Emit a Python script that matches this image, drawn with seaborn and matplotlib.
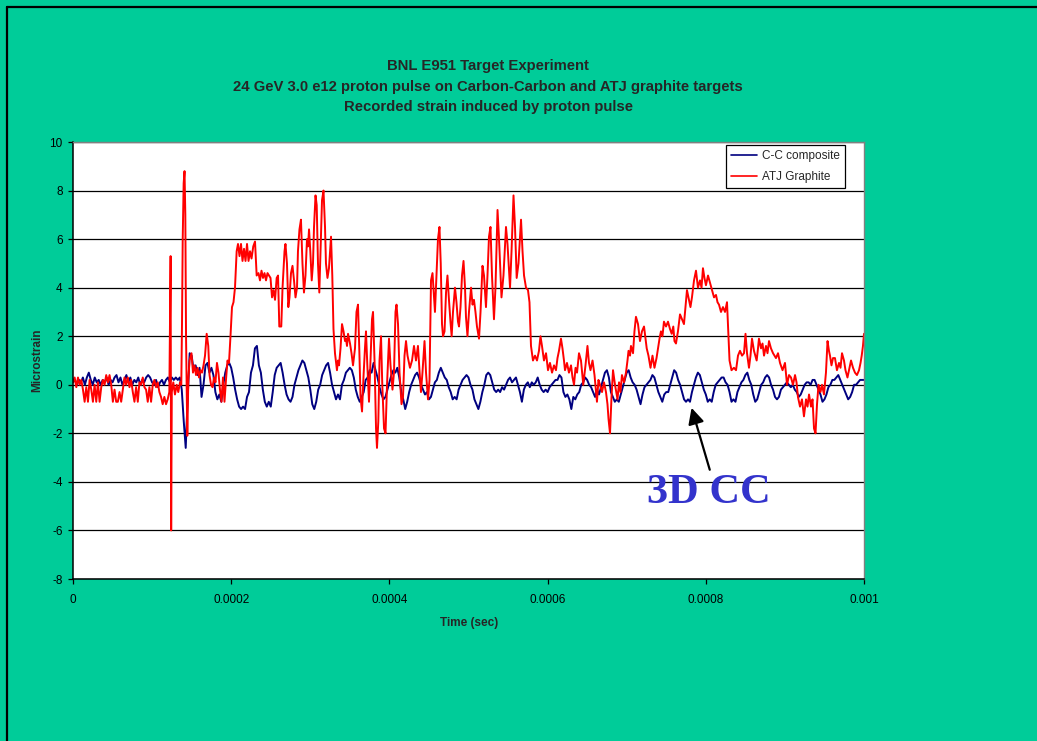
import numpy as np
import pandas as pd
import matplotlib
matplotlib.use("Agg")
import matplotlib.pyplot as plt
from matplotlib.lines import Line2D
import seaborn as sns

# ---------------------------------------------------------------- data
TITLE_LINES = [
    "BNL E951 Target Experiment",
    "24 GeV 3.0 e12 proton pulse on Carbon-Carbon and ATJ graphite targets",
    "Recorded strain induced by proton pulse",
]
SERIES_NAMES = ["C-C composite", "ATJ Graphite"]
X_TICKS = [0, 0.0002, 0.0004, 0.0006, 0.0008, 0.001]
X_TICK_LABELS = ["0", "0.0002", "0.0004", "0.0006", "0.0008", "0.001"]
Y_TICKS = [-8, -6, -4, -2, 0, 2, 4, 6, 8, 10]

# C-C composite: recorder samples every 2.5 microseconds
CC_SAMPLE_US = 2.5
CC_STRAIN = [
    0.1, 0.2, 0.0, 0.2, 0.1, 0.3, 0.0, 0.3, 0.5, 0.2,
    0.0, 0.3, 0.1, 0.2, 0.0, 0.2, 0.1, 0.3, 0.0, 0.2,
    0.1, 0.3, 0.4, 0.1, 0.3, 0.0, 0.2, 0.4, 0.1, 0.3,
    0.0, 0.2, 0.1, 0.3, 0.0, 0.2, 0.1, 0.3, 0.4, 0.3,
    0.1, 0.0, 0.2, -0.1, 0.1, 0.2, 0.0, 0.2, 0.3, 0.1,
    0.3, 0.2, 0.3, 0.2, 0.3, -0.2, -1.5, -2.6, -0.5, 1.3,
    1.2, 0.6, 0.8, 0.4, 0.7, -0.5, 0.0, 0.8, 0.9, 0.5,
    0.7, 0.4, -0.3, -0.6, -0.4, -0.7, 0.0, 0.5, 0.8, 0.9,
    0.7, 0.3, -0.2, -0.6, -0.9, -1.0, -0.9, -1.0, -0.5, -0.3,
    0.5, 0.8, 1.5, 1.6, 0.8, 0.5, -0.2, -0.7, -0.9, -0.7,
    -0.9, -0.3, 0.4, 0.7, 0.8, 0.9, 0.5, 0.0, -0.4, -0.6,
    -0.7, -0.5, 0.0, 0.3, 0.6, 0.8, 1.0, 0.9, 0.6, 0.3,
    -0.2, -0.8, -1.0, -0.7, -0.2, 0.0, 0.4, 0.6, 0.8, 0.9,
    0.5, 0.0, -0.3, -0.6, -0.4, -0.6, 0.0, 0.2, 0.5, 0.6,
    0.7, 0.6, 0.3, -0.2, -0.5, -0.7, -0.5, -0.3, 0.2, 0.3,
    0.6, 0.5, 0.9, 0.6, 0.3, -0.1, -0.4, -0.6, -0.5, -0.2,
    0.1, 0.4, 0.6, 0.5, 0.7, 0.3, -0.3, -0.6, -1.0, -0.7,
    -0.3, 0.0, 0.2, 0.4, 0.5, 0.3, 0.0, -0.2, -0.4, -0.3,
    -0.6, -0.5, -0.2, 0.1, 0.2, 0.5, 0.7, 0.5, 0.3, 0.2,
    -0.1, -0.3, -0.6, -0.5, -0.6, -0.2, 0.0, 0.2, 0.3, 0.4,
    0.3, 0.0, -0.2, -0.6, -0.8, -1.0, -0.7, -0.3, 0.0, 0.4,
    0.5, 0.4, 0.1, -0.2, -0.3, -0.2, -0.3, -0.1, -0.2, 0.0,
    0.2, 0.3, 0.1, 0.2, 0.3, 0.0, -0.3, -0.7, -0.2, 0.0,
    0.1, -0.1, 0.1, 0.0, 0.1, 0.3, 0.0, -0.2, -0.3, -0.2,
    -0.3, -0.1, 0.0, 0.1, 0.2, 0.2, 0.4, 0.3, -0.3, -0.5,
    -0.4, -0.6, -1.0, -0.5, -0.6, -0.4, -0.3, 0.0, 0.1, 0.3,
    0.2, 0.0, -0.1, -0.3, -0.5, -0.2, -0.4, -0.1, 0.2, 0.5,
    0.6, 0.3, -0.3, -0.5, -0.7, -0.6, -0.7, -0.4, -0.1, 0.2,
    0.5, 0.6, 0.3, 0.1, 0.0, -0.2, -0.5, -0.8, -0.4, -0.1,
    0.0, 0.1, 0.2, 0.4, 0.3, 0.0, -0.3, -0.5, -0.7, -0.4,
    -0.3, -0.3, 0.0, 0.3, 0.6, 0.5, 0.2, 0.0, -0.3, -0.6,
    -0.7, -0.6, -0.7, -0.3, 0.0, 0.3, 0.5, 0.4, 0.1, -0.2,
    -0.4, -0.7, -0.6, -0.7, -0.3, 0.0, 0.1, 0.2, 0.3, 0.3,
    0.1, 0.0, -0.3, -0.7, -0.6, -0.7, -0.3, -0.1, 0.1, 0.2,
    0.4, 0.5, 0.2, 0.0, -0.4, -0.7, -0.6, -0.3, 0.0, 0.1,
    0.3, 0.4, 0.3, 0.0, -0.2, -0.5, -0.6, -0.5, -0.2, -0.1,
    0.0, 0.1, 0.0, -0.1, 0.0, -0.2, -0.3, -0.5, -0.4, -0.2,
    0.0, 0.1, 0.1, 0.0, 0.2, 0.2, 0.0, -0.2, -0.4, -0.7,
    -0.6, -0.4, -0.1, 0.0, 0.2, 0.2, 0.3, 0.4, 0.2, 0.0,
    -0.2, -0.4, -0.6, -0.5, -0.3, 0.0, 0.0, 0.1, 0.2, 0.2,
    0.2,
]

# ATJ graphite: time (microseconds) and strain
ATJ_TIME_US = [
    0.0, 2.1, 4.2, 6.3, 8.4, 10.5, 12.6, 14.7, 16.8, 18.9,
    21.0, 23.1, 25.2, 27.3, 29.4, 31.5, 33.6, 35.7, 37.8, 39.9,
    42.0, 44.1, 46.2, 48.3, 50.4, 52.5, 54.6, 56.7, 58.8, 60.9,
    63.0, 65.1, 67.2, 69.3, 71.4, 73.5, 75.6, 77.7, 79.8, 81.9,
    84.0, 86.1, 88.2, 90.3, 92.4, 94.5, 96.6, 98.7, 100.8, 102.9,
    105.0, 107.1, 109.2, 111.3, 113.4, 115.5, 117.6, 119.7, 121.8,
    123.4, 124.1, 124.9, 126.8, 128.9, 131.1, 133.1, 135.3, 136.9, 137.8,
    138.7, 139.9, 141.0, 142.0, 142.9, 144.5, 145.8, 147.3, 149.8, 151.7,
    153.6, 155.5, 157.4, 159.3, 161.2, 163.1, 165.0, 166.9, 169.0, 171.0,
    172.6, 174.5, 176.4, 178.3, 180.1, 182.0, 183.9, 185.8, 187.7, 189.6,
    191.5, 193.4, 195.3, 197.2, 199.1, 201.0, 202.9, 204.8, 206.9, 208.6,
    210.5, 212.4, 214.3, 216.2, 218.1, 220.0, 221.9, 223.8, 225.7, 227.9,
    230.1, 232.2, 234.5, 236.4, 238.3, 240.2, 242.1, 244.0, 245.9, 247.8,
    249.7, 251.6, 253.5, 255.4, 257.5, 259.2, 260.8, 263.3, 264.9, 267.4,
    268.6, 270.5, 272.2, 273.7, 275.6, 277.5, 279.4, 281.3, 283.2, 284.4,
    286.3, 288.2, 290.1, 292.0, 293.9, 295.8, 297.1, 298.4, 300.0, 301.8,
    303.4, 304.7, 306.6, 308.1, 309.7, 311.4, 312.9, 314.8, 316.7, 318.6,
    319.8, 321.7, 323.6, 326.2, 327.8, 329.3, 331.2, 333.7, 335.0, 336.3,
    338.2, 340.1, 342.0, 343.9, 345.1, 346.4, 347.7, 350.2, 352.1, 354.0,
    356.5, 358.4, 360.3, 361.9, 363.5, 365.4, 367.2, 369.1, 370.4, 372.1,
    374.2, 376.1, 378.0, 379.3, 381.2, 383.1, 384.3, 386.0, 387.5, 389.4,
    391.0, 393.2, 395.1, 397.0, 399.5, 401.4, 403.9, 405.8, 407.7, 409.0,
    410.9, 412.8, 415.3, 417.2, 419.1, 421.0, 422.9, 426.0, 428.6, 431.1,
    433.6, 436.1, 438.0, 439.9, 441.8, 444.4, 446.3, 448.8, 450.7, 452.6,
    454.5, 456.4, 457.6, 459.5, 461.4, 463.3, 464.9, 466.5, 467.8, 469.7,
    471.6, 473.4, 475.3, 477.2, 478.7, 480.4, 482.9, 484.8, 486.7, 488.0,
    489.9, 491.8, 493.7, 495.6, 496.8, 498.7, 500.6, 503.2, 505.1, 506.9,
    508.8, 510.7, 513.3, 515.2, 517.7, 519.6, 520.9, 522.1, 524.0, 525.9,
    527.8, 529.7, 532.2, 534.1, 536.7, 538.6, 541.7, 544.2, 547.4, 549.3,
    552.5, 554.4, 556.9, 558.8, 560.9, 563.2, 566.4, 568.3, 570.2, 572.7,
    575.2, 577.1, 579.0, 581.5, 584.1, 586.6, 589.1, 591.0, 592.9, 595.4,
    598.0, 600.5, 603.0, 605.6, 608.1, 610.6, 612.5, 614.4, 616.9, 618.8,
    620.7, 622.0, 624.5, 627.0, 629.6, 631.5, 633.4, 635.3, 637.2, 639.7,
    642.2, 645.1, 647.9, 650.4, 652.3, 654.2, 656.8, 659.3, 662.4, 664.3,
    666.2, 668.8, 671.3, 673.8, 675.7, 677.0, 678.9, 680.8, 682.7, 685.2,
    688.4, 690.3, 692.1, 694.0, 696.6, 699.1, 701.0, 702.3, 704.2, 705.4,
    708.0, 709.8, 711.7, 714.3, 716.8, 719.3, 721.9, 723.8, 725.3, 727.5,
    730.1, 732.6, 735.1, 737.7, 739.6, 741.5, 743.3, 745.2, 747.1, 749.7,
    752.2, 754.7, 756.9, 758.9, 760.4, 762.3, 764.8, 767.4, 769.9, 772.4,
    774.3, 776.2, 778.1, 780.6, 782.5, 785.1, 787.6, 790.1, 792.7, 794.6,
    796.4, 798.3, 800.2, 802.8, 805.3, 807.8, 810.4, 812.9, 814.8, 816.7,
    819.2, 821.7, 824.3, 826.8, 828.7, 830.0, 832.5, 835.6, 838.2, 840.7,
    843.2, 845.8, 848.3, 850.2, 852.1, 854.6, 856.5, 858.4, 860.9, 864.3,
    866.0, 867.2, 869.8, 871.7, 873.6, 876.1, 878.0, 879.9, 882.4, 885.0,
    888.7, 891.3, 893.8, 897.0, 900.1, 902.7, 905.2, 907.7, 910.2, 912.8,
    914.7, 916.5, 919.1, 921.6, 924.1, 926.7, 928.6, 930.5, 933.0, 934.9,
    936.8, 938.7, 940.6, 942.5, 945.0, 946.9, 949.4, 951.9, 953.9, 955.7,
    957.0, 958.9, 960.8, 963.3, 965.8, 968.4, 970.3, 972.2, 974.7, 976.6,
    979.1, 981.0, 983.6, 986.1, 988.6, 991.1, 993.7, 995.6, 997.1, 998.7,
    1000.0,
]
ATJ_STRAIN = [
    0.1, 0.3, -0.1, 0.3, 0.0, 0.2, -0.2, -0.7, -0.1, -0.7,
    0.2, -0.2, -0.7, 0.0, -0.7, 0.1, -0.7, -0.1, 0.2, 0.0,
    0.4, 0.1, 0.4, 0.0, -0.7, -0.2, -0.7, -0.7, -0.3, -0.7,
    -0.2, 0.3, 0.0, 0.3, -0.1, 0.2, -0.3, -0.7, -0.1, -0.7,
    0.1, 0.0, 0.3, -0.1, -0.2, -0.7, -0.1, -0.7, 0.0, 0.2,
    -0.1, 0.1, -0.3, -0.5, -0.8, -0.5, -0.8, -0.6, -0.3,
    5.3, -6.0, -0.3, 0.1, -0.4, 0.0, -0.3, 0.1, 0.0, 2.5,
    6.0, 8.3, 8.8, 7.0, 2.0, -2.1, 0.2, 1.0, 1.3, 0.5,
    0.8, 0.4, 0.7, 0.3, 0.6, 0.5, 0.8, 1.2, 2.1, 1.6,
    0.4, 0.0, -0.1, 0.3, 0.1, 0.9, 0.5, -0.2, -0.7, 0.3,
    -0.7, 0.2, 1.0, 0.9, 2.0, 3.2, 3.4, 4.0, 5.5, 5.8,
    5.3, 5.8, 5.1, 5.6, 5.1, 5.8, 5.1, 5.5, 5.2, 5.7,
    5.9, 4.5, 4.6, 4.3, 4.7, 4.4, 4.6, 4.3, 4.6, 4.5,
    4.4, 3.6, 3.9, 3.5, 4.4, 4.5, 2.4, 2.4, 4.0, 5.5,
    5.8, 5.0, 3.2, 3.6, 4.6, 4.9, 4.3, 3.6, 4.0, 5.5,
    6.4, 6.8, 5.0, 3.8, 4.5, 6.0, 5.7, 6.4, 5.5, 4.3,
    5.0, 6.5, 7.8, 7.4, 5.0, 3.8, 5.5, 7.6, 8.0, 6.5,
    5.0, 4.4, 4.8, 6.1, 4.5, 2.3, 1.3, 0.6, 1.0, 0.8,
    1.5, 2.5, 2.2, 1.8, 1.9, 1.6, 2.1, 1.7, 1.3, 0.8,
    1.5, 3.0, 3.3, 1.5, -0.5, -1.1, 0.3, 1.5, 2.2, 0.8,
    -0.7, 1.0, 2.7, 3.0, 1.0, -1.8, -2.6, -1.5, 1.0, 2.0,
    0.0, -1.8, -2.0, 0.0, 1.9, 0.8, -0.2, 0.5, 3.0, 3.3,
    2.5, 0.5, -0.8, -0.5, 1.2, 1.8, 1.2, 0.7, 1.0, 1.6,
    1.0, 1.6, 0.6, -0.3, 0.5, 1.8, 0.5, -0.6, 0.2, 4.3,
    4.6, 3.6, 3.0, 4.5, 6.0, 6.5, 5.0, 2.5, 2.0, 2.2,
    3.8, 4.5, 3.5, 2.6, 2.0, 3.0, 4.0, 3.4, 2.6, 2.4,
    3.2, 4.5, 5.1, 4.0, 2.8, 2.0, 3.0, 4.0, 3.3, 3.5,
    3.0, 2.4, 1.9, 3.0, 4.9, 4.5, 3.8, 3.2, 4.5, 6.1,
    6.5, 4.5, 2.7, 4.0, 7.2, 6.0, 3.6, 4.5, 6.5, 5.8,
    4.0, 5.5, 7.8, 6.5, 4.4, 5.0, 6.8, 5.5, 4.5, 4.0,
    3.9, 3.4, 1.6, 1.0, 1.2, 1.0, 1.4, 2.0, 1.6, 1.0,
    1.3, 0.6, 0.9, 0.5, 0.8, 0.6, 1.1, 1.4, 1.9, 1.5,
    1.0, 0.6, 0.9, 0.5, 0.8, 0.3, 0.0, 0.7, 0.5, 1.3,
    1.0, 0.0, 0.8, 1.6, 0.9, 0.6, 1.0, 0.4, -0.7, 0.2,
    0.0, -0.3, 0.1, -0.3, -0.8, -1.4, -2.0, -0.5, 0.6, 0.0,
    -0.6, 0.1, -0.3, 0.4, 0.1, 0.5, 1.0, 1.4, 1.2, 1.6,
    1.3, 2.2, 2.8, 2.5, 1.8, 2.2, 2.4, 1.9, 1.5, 1.2,
    0.7, 1.2, 0.7, 1.1, 1.5, 1.9, 2.2, 2.0, 2.6, 2.4,
    2.6, 2.3, 2.1, 2.4, 1.8, 1.7, 2.2, 2.9, 2.7, 2.5,
    3.2, 3.9, 3.6, 3.2, 3.6, 4.3, 4.7, 4.0, 4.3, 4.0,
    4.8, 4.4, 4.1, 4.5, 4.2, 3.9, 3.6, 3.7, 3.4, 3.3,
    3.0, 3.2, 3.0, 3.4, 2.0, 1.0, 0.6, 0.7, 0.6, 1.2,
    1.4, 1.2, 1.3, 2.1, 1.3, 0.7, 1.2, 1.9, 1.4, 1.0,
    1.5, 1.9, 1.5, 1.7, 1.2, 1.6, 1.3, 1.8, 1.5, 1.3,
    1.1, 1.3, 0.9, 0.6, 0.9, 0.0, 0.4, 0.3, 0.0, 0.4,
    0.1, -0.5, -0.9, -0.6, -1.3, -0.6, -0.9, -0.4, -0.9, -0.6,
    -1.8, -2.0, -0.8, 0.0, -0.3, 0.0, -0.4, 0.5, 1.8, 1.4,
    1.2, 0.8, 1.1, 1.1, 0.6, 0.9, 0.7, 1.3, 1.0, 0.6,
    0.3, 0.6, 1.0, 0.7, 0.5, 0.4, 0.6, 0.9, 1.2, 1.6,
    2.1,
]
assert len(ATJ_TIME_US) == len(ATJ_STRAIN)

# ---------------------------------------------------------------- frames
cc = pd.DataFrame({
    "time": np.arange(len(CC_STRAIN)) * CC_SAMPLE_US * 1e-6,
    "strain": CC_STRAIN,
    "series": SERIES_NAMES[0],
})
atj = pd.DataFrame({
    "time": np.array(ATJ_TIME_US) * 1e-6,
    "strain": ATJ_STRAIN,
    "series": SERIES_NAMES[1],
})

# ---------------------------------------------------------------- style
BG = "#00CC99"
CC_COLOR = "#000080"
ATJ_COLOR = "#FF0000"

sns.set_style("white")
plt.rcParams["font.family"] = ["Liberation Sans", "DejaVu Sans"]

W, H = 1037, 741
fig = plt.figure(figsize=(W / 100, H / 100), dpi=100, facecolor=BG)
ax = fig.add_axes([73 / W, 1 - 579 / H, (864 - 73) / W, (579 - 142) / H])
ax.set_facecolor("white")

sns.lineplot(data=cc, x="time", y="strain", ax=ax, color=CC_COLOR,
             lw=1.4, estimator=None, sort=False, legend=False)
sns.lineplot(data=atj, x="time", y="strain", ax=ax, color=ATJ_COLOR,
             lw=1.4, estimator=None, sort=False, legend=False)

ax.set_xlim(0, 0.001)
ax.set_ylim(-8, 10)
ax.set_xticks(X_TICKS)
ax.set_xticklabels(X_TICK_LABELS)
ax.set_yticks(Y_TICKS)
ax.set_yticklabels([str(v) for v in Y_TICKS])
ax.yaxis.grid(True, color="black", lw=0.9)
ax.xaxis.grid(False)
ax.set_axisbelow(True)
ax.tick_params(axis="both", direction="out", length=3.5, width=0.9,
               color="black", labelsize=8.5, labelcolor="black")
ax.tick_params(axis="y", pad=4)
ax.tick_params(axis="x", pad=7)
ax.tick_params(left=True, bottom=True)
for side in ("left", "bottom"):
    ax.spines[side].set_color("black")
    ax.spines[side].set_linewidth(1.1)
for side in ("top", "right"):
    ax.spines[side].set_color("#808080")
    ax.spines[side].set_linewidth(1.0)

ax.set_xlabel("")
ax.set_ylabel("")
fig.text(469 / W, 1 - 623 / H, "Time (sec)", ha="center", va="center",
         fontsize=8.5, fontweight="bold")
fig.text(37 / W, 1 - 360 / H, "Microstrain", ha="center", va="center",
         rotation=90, fontsize=8.5, fontweight="bold")

for y_px, line in zip([66, 87, 107], TITLE_LINES):
    fig.text(488 / W, 1 - y_px / H, line, ha="center", va="center",
             fontsize=10.7, fontweight="bold")

handles = [Line2D([], [], color=CC_COLOR, lw=1.2),
           Line2D([], [], color=ATJ_COLOR, lw=1.2)]
leg = ax.legend(handles, SERIES_NAMES, loc="upper right",
                bbox_to_anchor=((845 - 73) / 791, (579 - 145) / 437),
                fontsize=8.5, frameon=True, fancybox=False, framealpha=1,
                edgecolor="black", handlelength=2.2, handletextpad=0.4,
                borderpad=0.45, labelspacing=0.75, borderaxespad=0)
leg.get_frame().set_linewidth(0.9)

# callout marking the carbon-carbon trace
ax.annotate("", xy=(0.000782, -0.95), xytext=(0.000805, -3.5),
            arrowprops=dict(arrowstyle="-|>", color="black", lw=1.6,
                            mutation_scale=24, shrinkA=0, shrinkB=0))
ax.text(0.000804, -4.45, "3D CC", ha="center", va="center",
        fontsize=30.5, fontweight="bold", color="#3333CC",
        family=["Liberation Serif", "DejaVu Serif"])

# slide frame along the left and top edges
fig.add_artist(Line2D([6.5 / W, 6.5 / W], [0, 1 - 6.5 / H],
                      transform=fig.transFigure, color="black", lw=1.6))
fig.add_artist(Line2D([6.5 / W, 1], [1 - 6.5 / H, 1 - 6.5 / H],
                      transform=fig.transFigure, color="black", lw=1.6))

fig.savefig("out.png", dpi=100, facecolor=BG)
